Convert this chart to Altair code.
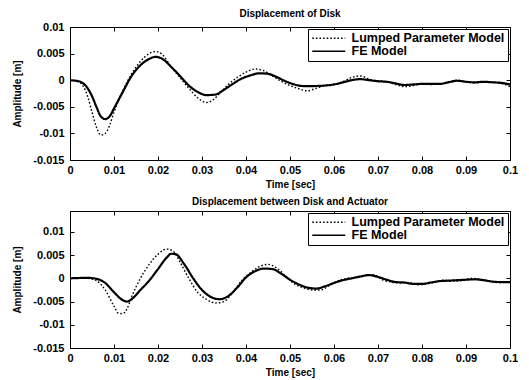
import altair as alt
import pandas as pd

LUMPED = "Lumped Parameter Model"
FE = "FE Model"

# ---- Top panel: Displacement of Disk ----
top_lumped_t = [0, 0.002, 0.004, 0.005, 0.006, 0.007, 0.008, 0.009, 0.010, 0.012, 0.014, 0.016, 0.018,
                0.0195, 0.021, 0.023, 0.025, 0.027, 0.029, 0.031, 0.0325, 0.034, 0.036, 0.038, 0.040,
                0.042, 0.044, 0.046, 0.048, 0.050, 0.052, 0.054, 0.056, 0.058, 0.060, 0.062, 0.064,
                0.066, 0.068, 0.070, 0.072, 0.074, 0.076, 0.078, 0.080, 0.082, 0.084, 0.086, 0.088,
                0.090, 0.092, 0.094, 0.096, 0.098, 0.100]
top_lumped_v = [0, -0.0003, -0.003, -0.006, -0.0088, -0.0103, -0.0100, -0.0085, -0.0060, -0.0020, 0.0012,
                0.0035, 0.0050, 0.0054, 0.0048, 0.0025, 0.0005, -0.0015, -0.0033, -0.0042, -0.0037,
                -0.0025, -0.0008, 0.0005, 0.0015, 0.0021, 0.0018, 0.0008, -0.0002, -0.0010, -0.0016,
                -0.0020, -0.0015, -0.0010, -0.0008, -0.0003, 0.0005, 0.0008, 0.0002, -0.0001, -0.0003,
                -0.0008, -0.0012, -0.0010, -0.0007, -0.0008, -0.0007, -0.0003, 0.0000, -0.0003, -0.0005,
                -0.0004, -0.0004, -0.0006, -0.0012]
top_fe_t = [0, 0.002, 0.004, 0.005, 0.006, 0.007, 0.008, 0.009, 0.010, 0.012, 0.014, 0.016, 0.018, 0.0195,
            0.021, 0.023, 0.025, 0.027, 0.029, 0.031, 0.033, 0.035, 0.037, 0.039, 0.041, 0.043, 0.045,
            0.047, 0.049, 0.051, 0.053, 0.055, 0.058, 0.060, 0.062, 0.064, 0.066, 0.068, 0.070, 0.072,
            0.074, 0.076, 0.078, 0.080, 0.082, 0.084, 0.086, 0.088, 0.090, 0.092, 0.094, 0.096, 0.098, 0.100]
top_fe_v = [0, -0.0002, -0.0015, -0.003, -0.005, -0.0068, -0.0073, -0.0068, -0.0053, -0.0022, 0.0008,
            0.0028, 0.0040, 0.0044, 0.0040, 0.0025, 0.0008, -0.0010, -0.0022, -0.0028, -0.0027, -0.0018,
            -0.0007, 0.0003, 0.0009, 0.0013, 0.0012, 0.0006, -0.0002, -0.0008, -0.0011, -0.0011, -0.0010,
            -0.0008, -0.0004, 0.0000, 0.0002, 0.0000, -0.0002, -0.0003, -0.0006, -0.0009, -0.0008,
            -0.0007, -0.0007, -0.0007, -0.0004, -0.0001, -0.0003, -0.0004, -0.0003, -0.0004, -0.0005, -0.0008]

# ---- Bottom panel: Displacement between Disk and Actuator ----
bot_lumped_t = [0, 0.004, 0.006, 0.008, 0.010, 0.011, 0.012, 0.013, 0.014, 0.016, 0.018, 0.020, 0.022,
                0.0235, 0.025, 0.027, 0.029, 0.031, 0.033, 0.035, 0.037, 0.039, 0.041, 0.043, 0.045,
                0.047, 0.049, 0.051, 0.053, 0.055, 0.057, 0.059, 0.061, 0.063, 0.065, 0.067, 0.069,
                0.071, 0.073, 0.075, 0.077, 0.079, 0.081, 0.083, 0.085, 0.087, 0.089, 0.091, 0.093,
                0.095, 0.097, 0.100]
bot_lumped_v = [0, 0, -0.0005, -0.0025, -0.0060, -0.0075, -0.0076, -0.0065, -0.0040, 0.0000, 0.0030,
                0.0052, 0.0063, 0.0058, 0.0035, 0.0000, -0.0030, -0.0045, -0.0053, -0.0050, -0.0030,
                -0.0005, 0.0012, 0.0025, 0.0030, 0.0022, 0.0005, -0.0012, -0.0020, -0.0025, -0.0025,
                -0.0015, -0.0005, 0.0000, 0.0002, 0.0006, 0.0008, -0.0003, -0.0008, -0.0010, -0.0009,
                -0.0014, -0.0012, -0.0008, -0.0004, -0.0006, -0.0005, 0.0000, -0.0002, -0.0005, -0.0009,
                -0.0008]
bot_fe_t = [0, 0.004, 0.006, 0.008, 0.010, 0.012, 0.013, 0.014, 0.016, 0.018, 0.020, 0.022, 0.023, 0.024,
            0.026, 0.028, 0.030, 0.032, 0.034, 0.036, 0.038, 0.040, 0.042, 0.044, 0.046, 0.048, 0.050,
            0.052, 0.054, 0.056, 0.058, 0.060, 0.062, 0.064, 0.066, 0.068, 0.070, 0.072, 0.074, 0.076,
            0.078, 0.080, 0.082, 0.084, 0.086, 0.088, 0.090, 0.092, 0.094, 0.096, 0.098, 0.100]
bot_fe_v = [0, 0.0001, -0.0001, -0.0010, -0.0030, -0.0047, -0.0050, -0.0045, -0.0025, -0.0005, 0.0020,
            0.0045, 0.0053, 0.0052, 0.0030, 0.0000, -0.0025, -0.0040, -0.0045, -0.0038, -0.0020, 0.0002,
            0.0015, 0.0021, 0.0020, 0.0010, -0.0003, -0.0013, -0.0020, -0.0022, -0.0017, -0.0010,
            -0.0004, 0.0000, 0.0004, 0.0007, 0.0003, -0.0003, -0.0008, -0.0009, -0.0012, -0.0012,
            -0.0009, -0.0006, -0.0005, -0.0004, -0.0003, -0.0002, -0.0004, -0.0007, -0.0008, -0.0008]

x_ticks = [0, 0.01, 0.02, 0.03, 0.04, 0.05, 0.06, 0.07, 0.08, 0.09, 0.1]
y_ticks = [-0.015, -0.01, -0.005, 0, 0.005, 0.01]

FONT = "Liberation Sans"
LABEL_EXPR = "'' + datum.value"


def make_df(lt, lv, ft, fv):
    a = pd.DataFrame({"t": lt, "v": lv, "series": LUMPED})
    b = pd.DataFrame({"t": ft, "v": fv, "series": FE})
    return pd.concat([a, b], ignore_index=True)


def panel(df, title, ydomain, height, title_offset):
    xs = alt.Scale(domain=[0, 0.1], nice=False, zero=False)
    ys = alt.Scale(domain=ydomain, nice=False, zero=False)
    color = alt.Color("series:N", title=None,
                      scale=alt.Scale(domain=[LUMPED, FE], range=["black", "black"]))
    dash = alt.StrokeDash("series:N", title=None,
                          scale=alt.Scale(domain=[LUMPED, FE], range=[[1.6, 2], [1, 0]]))

    main_x = alt.Axis(values=x_ticks, labelExpr=LABEL_EXPR, title="Time [sec]", ticks=False,
                      domain=False, grid=False, labelFlush=False, labelOverlap=False, labelPadding=4,
                      titlePadding=4)
    main_y = alt.Axis(values=y_ticks, labelExpr=LABEL_EXPR, title="Amplitude [m]", ticks=False,
                      domain=False, grid=False, labelFlush=False, labelOverlap=False, labelPadding=6,
                      titlePadding=10)

    def tick_axis(orient):
        return alt.Axis(orient=orient, values=x_ticks if orient in ("bottom", "top") else y_ticks,
                        labels=False, title=None, domain=False, grid=False, ticks=True,
                        tickSize=4, offset=-4, tickColor="black")

    base = alt.Chart(df)
    lumped = base.transform_filter(alt.datum.series == LUMPED).mark_line(
        strokeWidth=1.4, interpolate="monotone").encode(
        x=alt.X("t:Q", scale=xs, axis=main_x),
        y=alt.Y("v:Q", scale=ys, axis=main_y),
        color=color, strokeDash=dash)
    fe = base.transform_filter(alt.datum.series == FE).mark_line(
        strokeWidth=2.2, interpolate="monotone").encode(
        x=alt.X("t:Q", scale=xs, axis=tick_axis("bottom")),
        y=alt.Y("v:Q", scale=ys, axis=tick_axis("left")),
        color=color, strokeDash=dash)
    ghost = base.transform_filter(alt.datum.series == FE).mark_line(opacity=0).encode(
        x=alt.X("t:Q", scale=xs, axis=tick_axis("top")),
        y=alt.Y("v:Q", scale=ys, axis=tick_axis("right")))

    return alt.layer(lumped, fe, ghost).resolve_axis(x="independent", y="independent").properties(
        width=440, height=height,
        title=alt.Title(title, fontSize=10, font=FONT, fontWeight="bold", offset=title_offset))


top = panel(make_df(top_lumped_t, top_lumped_v, top_fe_t, top_fe_v),
            "Displacement of Disk", [-0.015, 0.01], 133, 2)
bottom = panel(make_df(bot_lumped_t, bot_lumped_v, bot_fe_t, bot_fe_v),
               "Displacement between Disk and Actuator", [-0.015, 0.0145], 137, 4)

chart = alt.vconcat(top, bottom, spacing=6).resolve_scale(
    color="independent", strokeDash="independent"
).resolve_legend(
    color="independent", strokeDash="independent"
).properties(
    padding={"left": 4, "top": 0, "right": 2, "bottom": 0}
).configure_view(
    stroke="black", strokeWidth=1
).configure_axis(
    labelFont=FONT, labelFontSize=11, labelFontWeight="bold", labelColor="black",
    titleFont=FONT, titleFontSize=10, titleFontWeight="bold", titleColor="black"
).configure_legend(
    orient="top-right", offset=2, strokeColor="black", fillColor="white", padding=3,
    labelFont=FONT, labelFontSize=12.5, labelFontWeight="bold", labelColor="black",
    symbolType="M-1,0H5.6", symbolSize=100, symbolStrokeWidth=1.6, symbolStrokeColor="black",
    rowPadding=-1, labelOffset=28, cornerRadius=0
).configure_title(color="black")

chart.save("out.html", embed_options={"renderer": "svg", "actions": False})
